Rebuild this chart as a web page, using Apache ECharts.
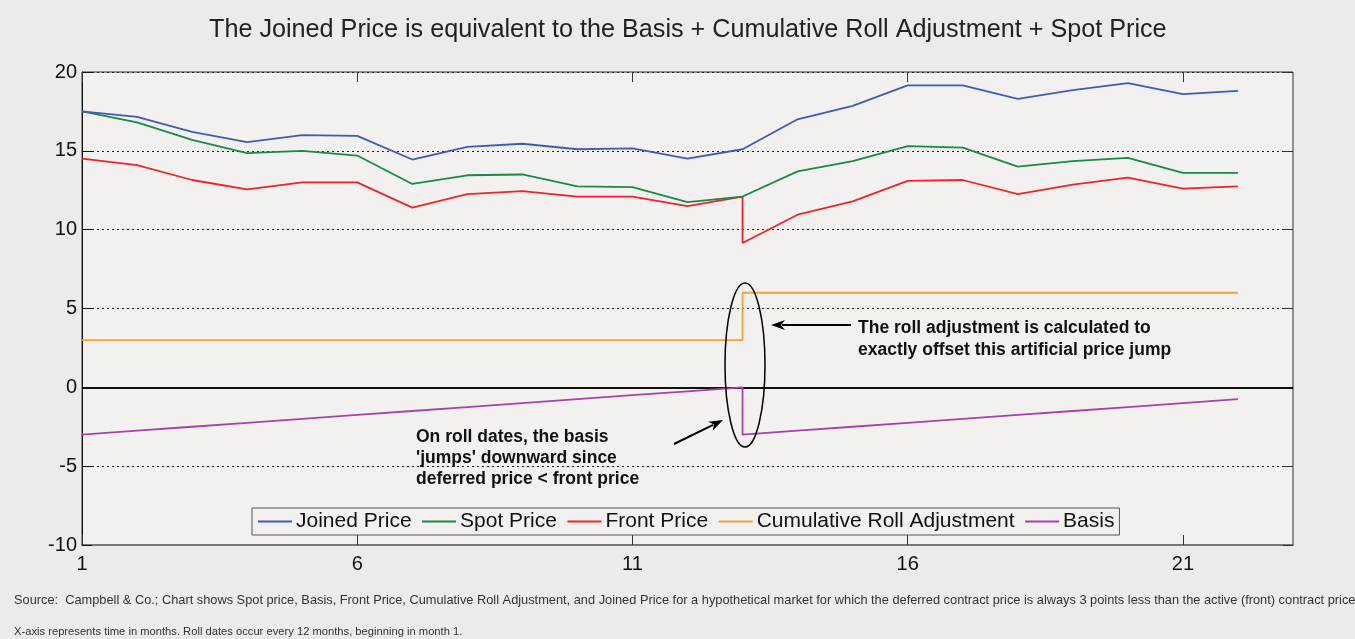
<!DOCTYPE html>
<html>
<head>
<meta charset="utf-8">
<title>Joined Price</title>
<script src="https://cdn.jsdelivr.net/npm/echarts@6/dist/echarts.min.js"></script>
<style>
  html, body { margin: 0; padding: 0; background: #ebebeb; }
  #chart { width: 1355px; height: 639px; }
</style>
</head>
<body>
<div id="chart"></div>
<script>
// months 1..22, roll happens at month 13
var months = [1, 2, 3, 4, 5, 6, 7, 8, 9, 10, 11, 12, 13, 14, 15, 16, 17, 18, 19, 20, 21, 22]
var rollMonth = 13

var joinedPrice = [17.5, 17.15, 16.2, 15.55, 16.0, 15.95, 14.45, 15.25, 15.45, 15.1, 15.15, 14.5,
    15.1, 17.0, 17.85, 19.15, 19.15, 18.3, 18.85, 19.3, 18.6, 18.8]
var spotPrice = [17.5, 16.8, 15.7, 14.85, 15.0, 14.7, 12.9, 13.45, 13.5, 12.75, 12.7, 11.75,
    12.1, 13.7, 14.35, 15.3, 15.2, 14.0, 14.35, 14.55, 13.6, 13.6]
// before the roll (months 1..13) and after the roll (months 13..22)
var frontBefore = [14.5, 14.1, 13.15, 12.55, 13.0, 13.0, 11.4, 12.25, 12.45, 12.1, 12.1, 11.5, 12.1]
var frontAfter = [9.15, 10.95, 11.8, 13.1, 13.15, 12.25, 12.85, 13.3, 12.6, 12.75]
var rollBefore = [3, 3, 3, 3, 3, 3, 3, 3, 3, 3, 3, 3, 3]
var rollAfter = [6, 6, 6, 6, 6, 6, 6, 6, 6, 6]
var basisBefore = [-3, -2.75, -2.5, -2.25, -2, -1.75, -1.5, -1.25, -1, -0.75, -0.5, -0.25, 0]
var basisAfter = [-3, -2.75, -2.5, -2.25, -2, -1.75, -1.5, -1.25, -1, -0.75]

var xTicks = [1, 6, 11, 16, 21]

var seriesNames = ['Joined Price', 'Spot Price', 'Front Price', 'Cumulative Roll Adjustment', 'Basis']
var seriesColors = ['#3c5cb6', '#178a48', '#f0222a', '#f5a033', '#a842a8']

function pairs(xs, ys) {
    return ys.map(function (v, i) { return [xs[i], v] })
}
function splitPairs(before, after) {
    var pre = pairs(months, before)
    var post = pairs(months.slice(rollMonth - 1), after)
    return pre.concat(post)
}

// 箭头: 线 + 三角形
function arrow(x1, y1, x2, y2) {
    var dx = x2 - x1, dy = y2 - y1
    var len = Math.sqrt(dx * dx + dy * dy)
    var ux = dx / len, uy = dy / len
    var hl = 14, hw = 5
    var bx = x2 - ux * hl, by = y2 - uy * hl
    return [
        { type: 'line', shape: { x1: x1, y1: y1, x2: bx + ux * 3, y2: by + uy * 3 },
          style: { stroke: '#000', lineWidth: 2 }, z: 100 },
        { type: 'polygon',
          shape: { points: [[x2, y2], [bx - uy * hw, by + ux * hw], [bx + ux * 4, by + uy * 4], [bx + uy * hw, by - ux * hw]] },
          style: { fill: '#000' }, z: 100 }
    ]
}

var myChart = echarts.init(document.getElementById('chart'))

var axisFont = { fontFamily: 'Liberation Sans, Arial, sans-serif', fontSize: 20, color: '#111' }

var option = {
    backgroundColor: '#ebebeb',
    animation: false,
    title: {
        text: 'The Joined Price is equivalent to the Basis + Cumulative Roll Adjustment + Spot Price',
        left: 204,
        top: 13,
        textStyle: { fontFamily: 'Liberation Sans, Arial, sans-serif', fontSize: 25.2, fontWeight: 'normal', color: '#222' }
    },
    grid: {
        left: 82, right: 62, top: 72, bottom: 94,
        show: true,
        backgroundColor: '#f2f1f0',
        borderColor: '#333',
        borderWidth: 1
    },
    legend: {
        data: seriesNames,
        left: 252,
        top: 508,
        itemWidth: 34,
        itemHeight: 2,
        itemGap: 10.5,
        icon: 'rect',
        padding: [3, 5, 3, 6],
        backgroundColor: '#f2f1f0',
        borderColor: '#555',
        borderWidth: 1,
        textStyle: { fontFamily: 'Liberation Sans, Arial, sans-serif', fontSize: 21, color: '#111', padding: [0, 0, 0, -1] }
    },
    xAxis: [{
        type: 'value',
        min: 1,
        max: 23,
        axisLine: { show: true, onZero: false, lineStyle: { color: '#777', width: 2 } },
        axisTick: { show: true, inside: true, length: 10, customValues: xTicks, lineStyle: { color: '#333' } },
        axisLabel: Object.assign({ customValues: xTicks, margin: 9 }, axisFont),
        splitLine: { show: false }
    }, {
        type: 'value',
        position: 'top',
        min: 1,
        max: 23,
        axisLine: { show: false, onZero: false },
        axisTick: { show: true, inside: true, length: 10, customValues: xTicks, lineStyle: { color: '#333' } },
        axisLabel: { show: false },
        splitLine: { show: false }
    }],
    yAxis: [{
        type: 'value',
        min: -10,
        max: 20,
        interval: 5,
        axisLine: { show: true, onZero: false, lineStyle: { color: '#111' } },
        axisTick: { show: true, inside: true, length: 10, lineStyle: { color: '#111' } },
        axisLabel: Object.assign({ margin: 5 }, axisFont),
        splitLine: { show: true, lineStyle: { color: '#222', type: [2, 3], width: 1 } }
    }, {
        type: 'value',
        position: 'right',
        min: -10,
        max: 20,
        interval: 5,
        axisLine: { show: false, onZero: false },
        axisTick: { show: true, inside: true, length: 10, lineStyle: { color: '#333' } },
        axisLabel: { show: false },
        splitLine: { show: false }
    }],
    series: [
        {
            name: seriesNames[0], type: 'line', symbol: 'none', color: seriesColors[0],
            lineStyle: { width: 1.8 }, data: pairs(months, joinedPrice), z: 5
        },
        {
            name: seriesNames[1], type: 'line', symbol: 'none', color: seriesColors[1],
            lineStyle: { width: 1.8 }, data: pairs(months, spotPrice), z: 4
        },
        {
            name: seriesNames[2], type: 'line', symbol: 'none', color: seriesColors[2],
            lineStyle: { width: 1.8 }, data: splitPairs(frontBefore, frontAfter), z: 3
        },
        {
            name: seriesNames[3], type: 'line', symbol: 'none', color: seriesColors[3],
            lineStyle: { width: 1.8 }, data: splitPairs(rollBefore, rollAfter), z: 3
        },
        {
            name: seriesNames[4], type: 'line', symbol: 'none', color: seriesColors[4],
            lineStyle: { width: 1.8 }, data: splitPairs(basisBefore, basisAfter), z: 3,
            markLine: {
                silent: true,
                symbol: 'none',
                label: { show: false },
                lineStyle: { color: '#111', type: 'solid', width: 1.8 },
                data: [{ yAxis: 0 }],
                z: 2
            }
        }
    ],
    graphic: [
        { type: 'ellipse', shape: { cx: 745, cy: 365, rx: 20, ry: 82 },
          style: { fill: 'none', stroke: '#000', lineWidth: 1.5 }, z: 100 },
        { type: 'text', left: 858, top: 317, z: 100,
          style: { text: 'The roll adjustment is calculated to\nexactly offset this artificial price jump',
                   font: 'bold 17.5px Liberation Sans, Arial, sans-serif', fill: '#111', lineHeight: 22 } },
        { type: 'text', left: 416, top: 427, z: 100,
          style: { text: "On roll dates, the basis\n'jumps' downward since\ndeferred price < front price",
                   font: 'bold 17.5px Liberation Sans, Arial, sans-serif', fill: '#111', lineHeight: 21 } },
        { type: 'text', left: 14, top: 594,
          style: { text: 'Source:  Campbell & Co.; Chart shows Spot price, Basis, Front Price, Cumulative Roll Adjustment, and Joined Price for a hypothetical market for which the deferred contract price is always 3 points less than the active (front) contract price',
                   font: '12.8px Liberation Sans, Arial, sans-serif', fill: '#333' } },
        { type: 'text', left: 14, top: 626,
          style: { text: 'X-axis represents time in months. Roll dates occur every 12 months, beginning in month 1.',
                   font: '11.2px Liberation Sans, Arial, sans-serif', fill: '#333' } }
    ].concat(arrow(851, 325, 771, 325)).concat(arrow(674, 444, 723, 420))
}

myChart.setOption(option)
window.addEventListener('resize', function () {
    myChart.resize()
})
</script>
</body>
</html>
